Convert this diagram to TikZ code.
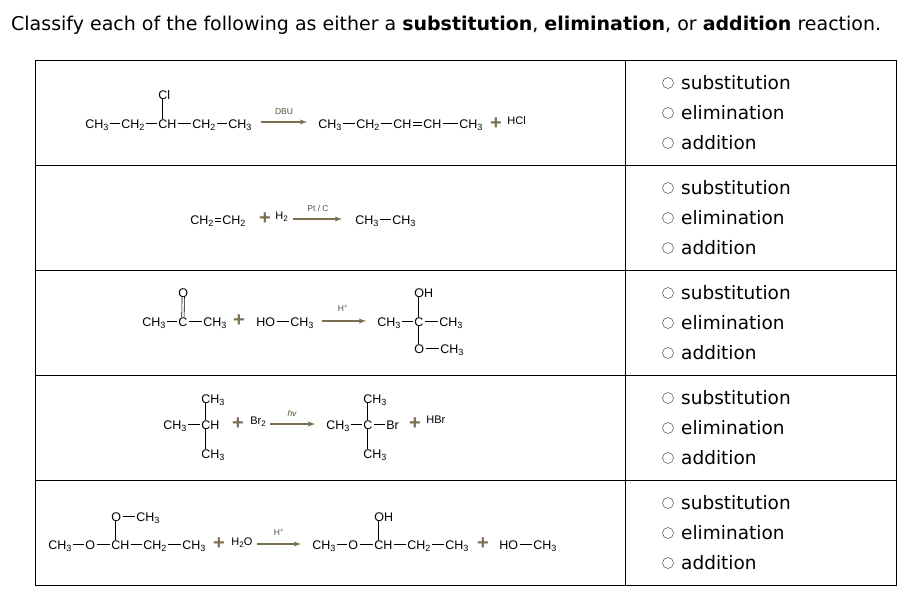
\documentclass[tikz,border=0pt]{standalone}
\usepackage{fontspec}
\setmainfont{Liberation Sans}
\newfontfamily\uifont{DejaVu Sans}
\newcommand\ssub[1]{\raisebox{-2.2pt}{\fontsize{9}{9}\selectfont #1}}
\newcommand\tsub[1]{\raisebox{-2pt}{\fontsize{8}{8}\selectfont #1}}
\definecolor{olive}{HTML}{7B6F51}
\begin{document}
\begin{tikzpicture}[x=1pt,y=-1pt,
  atm/.style={anchor=base west,inner xsep=1.2pt,inner ysep=0pt,text height=9pt,text depth=0pt,font=\fontsize{12.5}{12.5}\selectfont},
  bd/.style={line width=0.6pt},
  rx/.style={-latex,olive,line width=1.3pt},
  cond/.style={font=\fontsize{8.5}{8.5}\selectfont,olive!70!black},
  pl/.style={text=olive,font=\bfseries\fontsize{20}{20}\selectfont,inner sep=0pt},
  opt/.style={anchor=west,font=\uifont\fontsize{18.5}{18.5}\selectfont,inner sep=0pt},
  rad/.style={draw=gray!80!black,line width=0.6pt}]
\useasboundingbox (0,0) rectangle (904,589);
\fill[white] (0,0) rectangle (904,589);
\node[anchor=west,font=\uifont\fontsize{19}{19}\selectfont,inner sep=0pt] (title) at (11,25) {Classify each of the following as either a \textbf{substitution}, \textbf{elimination}, or \textbf{addition} reaction.};
% table
\draw[line width=0.8pt] (35,60) rectangle (896,585);
\draw[line width=0.8pt] (625,60) -- (625,585);
\foreach \y in {165,270,375,480} \draw[line width=0.8pt] (35,\y) -- (896,\y);
% options
\foreach \r in {0,1,2,3,4}{
  \draw[rad] (668,83+105*\r) circle (5.5);
  \node[opt] at (681,83+105*\r) {substitution};
  \draw[rad] (668,113+105*\r) circle (5.5);
  \node[opt] at (681,113+105*\r) {elimination};
  \draw[rad] (668,143+105*\r) circle (5.5);
  \node[opt] at (681,143+105*\r) {addition};
}
% ---- row 1
\node[atm] (a1) at (84,128) {CH\ssub3};
\node[atm] (a2) at (120,128) {CH\ssub2};
\node[atm] (a3) at (157,128) {CH};
\node[atm] (a4) at (191,128) {CH\ssub2};
\node[atm] (a5) at (227,128) {CH\ssub3};
\node[atm] (acl) at (157,99) {Cl};
\draw[bd] (a1)--(a2) (a2)--(a3) (a3)--(a4) (a4)--(a5);
\draw[bd] ([xshift=5.5pt]acl.south west)--([xshift=5.5pt]a3.north west);
\node[atm] (p1) at (317,128) {CH\ssub3};
\node[atm] (p2) at (355,128) {CH\ssub2};
\node[atm] (p3) at (392,128) {CH};
\node[atm] (p4) at (422,128) {CH};
\node[atm] (p5) at (458,128) {CH\ssub3};
\draw[bd] (p1)--(p2) (p2)--(p3) (p4)--(p5);
\draw[bd] ([yshift=1.5pt]p3.east)--([yshift=1.5pt]p4.west) ([yshift=-1.5pt]p3.east)--([yshift=-1.5pt]p4.west);
\node[pl] (pl1) at (496,124) {+};
\node[atm,font=\fontsize{11}{11}\selectfont] (hcl) at (506,124) {HCl};
\draw[rx] (261,122)--(307,122);
\node[cond] (c1) at (284,112) {DBU};
% ---- row 2
\node[atm] (b1) at (189,224) {CH\ssub2};
\node[atm] (b2) at (221,224) {CH\ssub2};
\draw[bd] ([yshift=1.5pt]b1.east)--([yshift=1.5pt]b2.west) ([yshift=-1.5pt]b1.east)--([yshift=-1.5pt]b2.west);
\node[pl] (pl2) at (265,219) {+};
\node[atm,font=\fontsize{11}{11}\selectfont] (h2) at (274,219) {H\tsub2};
\draw[rx] (293,219)--(342,219);
\node[cond] (c2) at (318,208) {Pt / C};
\node[atm] (q1) at (354,224) {CH\ssub3};
\node[atm] (q2) at (391,224) {CH\ssub3};
\draw[bd] (q1)--(q2);
% ---- row 3
\node[atm] (d1) at (141,326) {CH\ssub3};
\node[atm] (d2) at (177,326) {C};
\node[atm] (d3) at (202,326) {CH\ssub3};
\node[atm] (dO) at (177,297) {O};
\draw[bd] (d1)--(d2) (d2)--(d3);
\draw[bd] ([xshift=-1.2pt]dO.south)--([xshift=-1.2pt]d2.north) ([xshift=1.2pt]dO.south)--([xshift=1.2pt]d2.north);
\node[pl] (pl3) at (239,321) {+};
\node[atm] (e1) at (255,326) {HO};
\node[atm] (e2) at (289,326) {CH\ssub3};
\draw[bd] (e1)--(e2);
\draw[rx] (322,321)--(366,321);
\node[cond] (c3) at (343,308) {H\textsuperscript{+}};
\node[atm] (f1) at (376,326) {CH\ssub3};
\node[atm] (f2) at (413,326) {C};
\node[atm] (f3) at (438,326) {CH\ssub3};
\node[atm] (fOH) at (413,297) {OH};
\node[atm] (fO) at (413,353) {O};
\node[atm] (f4) at (439,353) {CH\ssub3};
\draw[bd] (f1)--(f2) (f2)--(f3) (fO)--(f4);
\draw[bd] ([xshift=5.5pt]fOH.south west)--([xshift=5.5pt]f2.north west) ([xshift=5.5pt]f2.south west)--([xshift=5.5pt]fO.north west);
% ---- row 4
\node[atm] (g1) at (162,429) {CH\ssub3};
\node[atm] (g2) at (200,429) {CH};
\node[atm] (g3) at (200,403) {CH\ssub3};
\node[atm] (g4) at (200,458) {CH\ssub3};
\draw[bd] (g1)--(g2);
\draw[bd] ([xshift=5.5pt]g3.south west)--([xshift=5.5pt]g2.north west) ([xshift=5.5pt]g2.south west)--([xshift=5.5pt]g4.north west);
\node[pl] (pl4) at (238,424) {+};
\node[atm,font=\fontsize{11}{11}\selectfont] (br2) at (249,424) {Br\tsub2};
\draw[rx] (270,424)--(315,424);
\node[cond,font=\fontsize{8.5}{8.5}\selectfont\itshape] (c4) at (292,413) {hv};
\node[atm] (h1) at (325,429) {CH\ssub3};
\node[atm] (h2n) at (362,429) {C};
\node[atm] (h3) at (385,429) {Br};
\node[atm] (h4) at (362,403) {CH\ssub3};
\node[atm] (h5) at (362,458) {CH\ssub3};
\draw[bd] (h1)--(h2n) (h2n)--(h3);
\draw[bd] ([xshift=5.5pt]h4.south west)--([xshift=5.5pt]h2n.north west) ([xshift=5.5pt]h2n.south west)--([xshift=5.5pt]h5.north west);
\node[pl] (pl5) at (415,424) {+};
\node[atm,font=\fontsize{11}{11}\selectfont] (hbr) at (425,423) {HBr};
% ---- row 5
\node[atm] (k1) at (47,549) {CH\ssub3};
\node[atm] (k2) at (84,549) {O};
\node[atm] (k3) at (110,549) {CH};
\node[atm] (k4) at (142,549) {CH\ssub2};
\node[atm] (k5) at (181,549) {CH\ssub3};
\node[atm] (kO) at (110,521) {O};
\node[atm] (k6) at (135,521) {CH\ssub3};
\draw[bd] (k1)--(k2) (k2)--(k3) (k3)--(k4) (k4)--(k5) (kO)--(k6);
\draw[bd] ([xshift=5.5pt]kO.south west)--([xshift=5.5pt]k3.north west);
\node[pl] (pl6) at (219,544) {+};
\node[atm,font=\fontsize{11}{11}\selectfont] (h2o) at (230,545) {H\tsub2O};
\draw[rx] (257,544)--(301,544);
\node[cond] (c5) at (279,532) {H\textsuperscript{+}};
\node[atm] (m1) at (311,549) {CH\ssub3};
\node[atm] (m2) at (347,549) {O};
\node[atm] (m3) at (373,549) {CH};
\node[atm] (m4) at (406,549) {CH\ssub2};
\node[atm] (m5) at (444,549) {CH\ssub3};
\node[atm] (mOH) at (373,521) {OH};
\draw[bd] (m1)--(m2) (m2)--(m3) (m3)--(m4) (m4)--(m5);
\draw[bd] ([xshift=5.5pt]mOH.south west)--([xshift=5.5pt]m3.north west);
\node[pl] (pl7) at (483,544) {+};
\node[atm] (n1) at (498,549) {HO};
\node[atm] (n2) at (532,549) {CH\ssub3};
\draw[bd] (n1)--(n2);
\end{tikzpicture}
\end{document}
